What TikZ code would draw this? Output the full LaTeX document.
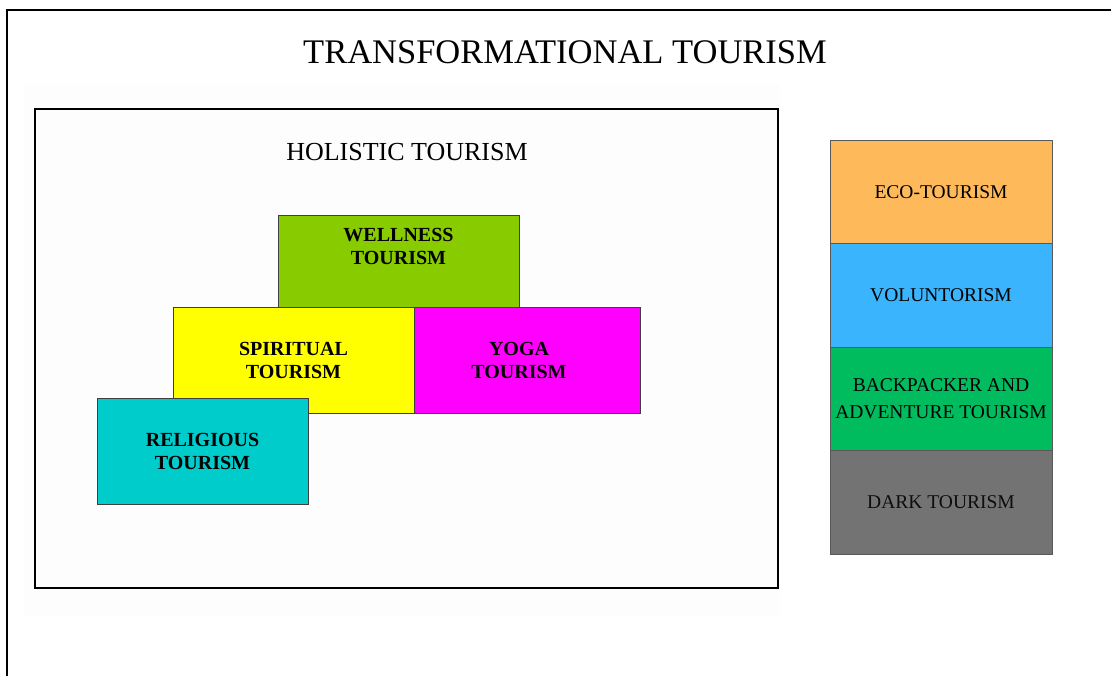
\documentclass[tikz,border=0pt]{standalone}
\usepackage{fontspec}
\setmainfont{Liberation Serif}
\usepackage{xcolor}
\usetikzlibrary{positioning}

\definecolor{wellgreen}{HTML}{88CC00}
\definecolor{spiryellow}{HTML}{FFFF00}
\definecolor{yogapink}{HTML}{FF00FF}
\definecolor{religcyan}{HTML}{00CCCC}
\definecolor{ecoorange}{HTML}{FDB95A}
\definecolor{volblue}{HTML}{3AB4FC}
\definecolor{packgreen}{HTML}{00BC5E}
\definecolor{darkgrey}{HTML}{737373}

\begin{document}
\begin{tikzpicture}[x=1pt, y=-1pt,
  every node/.style={inner sep=0pt, outer sep=0pt},
  kindfont/.style={align=center, font=\fontsize{20}{23}\selectfont\bfseries},
  kindbox/.style={draw=black!75, line width=1pt, anchor=north west, kindfont},
  sidebox/.style={draw=black!65, line width=1pt, minimum width=222pt,
    minimum height=103.5pt, align=center,
    font=\fontsize{19.5}{27}\selectfont}]
  \useasboundingbox (0,0) rectangle (1111,675);

  % --- outer frame, open to the right and bottom ---
  \draw[line width=2pt] (7,690) -- (7,10) -- (1125,10);
  \node (title) at (565,52) {\fontsize{34.5}{40}\selectfont TRANSFORMATIONAL TOURISM};

  % --- holistic group ---
  \fill[black!0.8] (24,84) rectangle (780,616);
  \draw[line width=2.5pt] (35,109) rectangle (778,588);
  \node (holistic) at (407,152) {\fontsize{26}{30}\selectfont HOLISTIC TOURISM};

  \node[kindbox, fill=wellgreen, minimum width=241pt, minimum height=92pt,
    label={[kindfont, anchor=north, yshift=-13pt]north:WELLNESS\\TOURISM}]
    (wellness) at (278,215) {};
  \node[kindbox, fill=spiryellow, minimum width=241pt, minimum height=106pt]
    (spiritual) at (173,307) {SPIRITUAL\\TOURISM};
  \node[kindbox, fill=yogapink, minimum width=226pt, minimum height=106pt, anchor=west,
    label={[kindfont, xshift=-8pt]center:YOGA\\TOURISM}]
    (yoga) at (spiritual.east) {};
  \node[kindbox, fill=religcyan, minimum width=211pt, minimum height=106pt]
    (religious) at (97,398) {RELIGIOUS\\TOURISM};

  % --- other forms, stacked ---
  \node[sidebox, fill=ecoorange, anchor=north west] (eco) at (830,140) {ECO-TOURISM};
  \node[sidebox, fill=volblue, below=0pt of eco] (volunt) {VOLUNTORISM};
  \node[sidebox, fill=packgreen, below=0pt of volunt] (backpack) {BACKPACKER AND\\ADVENTURE TOURISM};
  \node[sidebox, fill=darkgrey, below=0pt of backpack, text=black!95] (dark) {DARK TOURISM};
\end{tikzpicture}
\end{document}
